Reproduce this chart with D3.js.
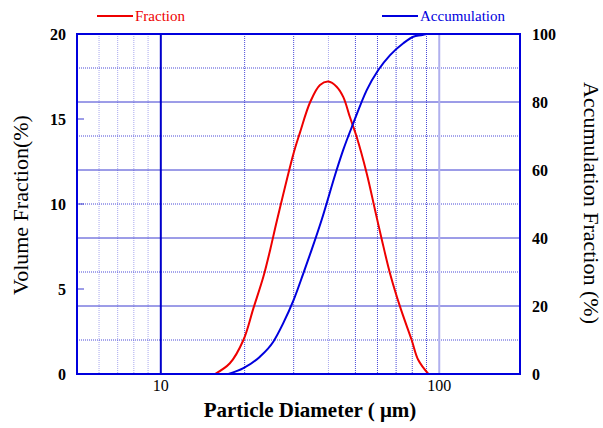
<!DOCTYPE html>
<html>
<head>
<meta charset="utf-8">
<script src="https://cdn.jsdelivr.net/npm/d3@7"></script>
<style>
  body { margin: 0; background: #fff; }
  text { font-family: "Liberation Serif", "Times New Roman", serif; }
</style>
</head>
<body>
<div id="chart"></div>
<script>
// particle diameter (um) vs volume fraction (%)
const fractionD = [15.65, 17.7, 19.8, 21.5, 23.35, 24.7, 26.1, 30.0, 31.6, 34.4, 37.3, 40.0, 42.8, 45.2, 47.8, 50.5, 54.9, 58.8, 62.2, 66.6, 72.3, 79.6, 84.1, 91.4];
const fractionV = [0.0, 0.63, 2.0, 3.86, 5.72, 7.3, 9.0, 13.0, 14.2, 16.0, 17.0, 17.2, 16.9, 16.3, 15.1, 13.96, 11.8, 9.65, 7.9, 5.9, 3.96, 2.0, 0.82, 0.0];

// particle diameter (um) vs accumulation (%)
const accumD = [17.5, 19.8, 22.7, 25.35, 27.5, 30.0, 32.5, 34.8, 37.8, 42.8, 45.2, 49.1, 54.9, 60.4, 66.6, 74.3, 80.7, 87.0, 90.0];
const accumV = [0.0, 1.7, 5.1, 9.5, 14.9, 21.8, 29.6, 36.5, 45.3, 60.0, 65.9, 73.7, 83.5, 89.4, 93.8, 97.3, 99.2, 99.7, 100];

const leftTicks = [0, 5, 10, 15, 20];
const rightTicks = [0, 20, 40, 60, 80, 100];
const xTicks = [10, 100];
const minorX = [6, 7, 8, 9, 20, 30, 40, 50, 60, 70, 80, 90];
const hSolid = [20, 40, 60, 80];
const hDotted = [10, 30, 50, 70, 90];

const width = 603, height = 428;
const plotL = 77, plotR = 520, plotT = 34, plotB = 374;

const svg = d3.select('#chart').append('svg')
    .attr('width', width)
    .attr('height', height);

const x = d3.scaleLog().domain([5, 195]).range([plotL, plotR]);
const yL = d3.scaleLinear().domain([0, 20]).range([plotB, plotT]);
const yR = d3.scaleLinear().domain([0, 100]).range([plotB, plotT]);

const grid = svg.append('g');

// vertical minor grid
grid.selectAll('line.vminor')
    .data(minorX)
    .enter().append('line')
    .attr('x1', d => x(d)).attr('x2', d => x(d))
    .attr('y1', plotT).attr('y2', plotB)
    .attr('stroke', d => d < 10 || d === 40 ? '#a8a8ee' : '#4a4ad8')
    .attr('stroke-width', 1)
    .attr('stroke-dasharray', '1,1');

// horizontal grid
grid.selectAll('line.hdot')
    .data(hDotted)
    .enter().append('line')
    .attr('x1', plotL).attr('x2', plotR)
    .attr('y1', d => yR(d)).attr('y2', d => yR(d))
    .attr('stroke', '#4a4ad8')
    .attr('stroke-width', 1)
    .attr('stroke-dasharray', '1,1');

grid.selectAll('line.hsolid')
    .data(hSolid)
    .enter().append('line')
    .attr('x1', plotL).attr('x2', plotR)
    .attr('y1', d => yR(d)).attr('y2', d => yR(d))
    .attr('stroke', '#3a3ad0')
    .attr('stroke-width', 1);

// decade lines
grid.append('line')
    .attr('x1', x(10)).attr('x2', x(10))
    .attr('y1', plotT).attr('y2', plotB)
    .attr('stroke', '#0000cc')
    .attr('stroke-width', 2);
grid.append('line')
    .attr('x1', x(100)).attr('x2', x(100))
    .attr('y1', plotT).attr('y2', plotB)
    .attr('stroke', '#b0b0ee')
    .attr('stroke-width', 2);

// left small ticks
grid.selectAll('line.lt')
    .data(leftTicks)
    .enter().append('line')
    .attr('x1', plotL).attr('x2', plotL + 7)
    .attr('y1', d => yL(d)).attr('y2', d => yL(d))
    .attr('stroke', '#3a3ad0')
    .attr('stroke-width', 1);

// curves
const lineFrac = d3.line()
    .x((d, i) => x(fractionD[i]))
    .y(d => yL(d))
    .curve(d3.curveCatmullRom.alpha(0.5));
const lineAcc = d3.line()
    .x((d, i) => x(accumD[i]))
    .y(d => yR(d))
    .curve(d3.curveMonotoneX);

svg.append('path')
    .datum(fractionV)
    .attr('d', lineFrac)
    .attr('fill', 'none')
    .attr('stroke', '#ee0000')
    .attr('stroke-width', 2);

svg.append('path')
    .datum(accumV)
    .attr('d', lineAcc)
    .attr('fill', 'none')
    .attr('stroke', '#0000dd')
    .attr('stroke-width', 2);

// frame
svg.append('rect')
    .attr('x', plotL).attr('y', plotT)
    .attr('width', plotR - plotL).attr('height', plotB - plotT)
    .attr('fill', 'none')
    .attr('stroke', '#0000dd')
    .attr('stroke-width', 2);

// tick labels
svg.selectAll('text.lt')
    .data(leftTicks)
    .enter().append('text')
    .attr('x', 66)
    .attr('y', d => yL(d))
    .attr('dy', '0.35em')
    .attr('text-anchor', 'end')
    .attr('font-size', 16)
    .attr('font-weight', 'bold')
    .text(d => d);

svg.selectAll('text.rt')
    .data(rightTicks)
    .enter().append('text')
    .attr('x', 532)
    .attr('y', d => yR(d))
    .attr('dy', '0.35em')
    .attr('font-size', 16)
    .attr('font-weight', 'bold')
    .text(d => d);

svg.selectAll('text.xt')
    .data(xTicks)
    .enter().append('text')
    .attr('x', d => x(d))
    .attr('y', 391)
    .attr('text-anchor', 'middle')
    .attr('font-size', 16)
    .text(d => d);

// axis titles
svg.append('text')
    .attr('transform', 'translate(28,205) rotate(-90)')
    .attr('text-anchor', 'middle')
    .attr('font-size', 22)
    .text('Volume Fraction(%)');

svg.append('text')
    .attr('transform', 'translate(584,203) rotate(90)')
    .attr('text-anchor', 'middle')
    .attr('font-size', 22)
    .text('Accumulation Fraction (%)');

svg.append('text')
    .attr('x', 310)
    .attr('y', 417)
    .attr('text-anchor', 'middle')
    .attr('font-size', 21)
    .attr('font-weight', 'bold')
    .text('Particle Diameter ( \u03bcm)');

// legend
const legend = [
    { name: 'Fraction', color: '#ee0000', x: 97 },
    { name: 'Accumulation', color: '#0000dd', x: 382 }
];
legend.forEach(l => {
    svg.append('line')
        .attr('x1', l.x).attr('x2', l.x + 36)
        .attr('y1', 16).attr('y2', 16)
        .attr('stroke', l.color)
        .attr('stroke-width', 2);
    svg.append('text')
        .attr('x', l.x + 38)
        .attr('y', 21)
        .attr('font-size', 15)
        .attr('fill', l.color)
        .text(l.name);
});
</script>
</body>
</html>
